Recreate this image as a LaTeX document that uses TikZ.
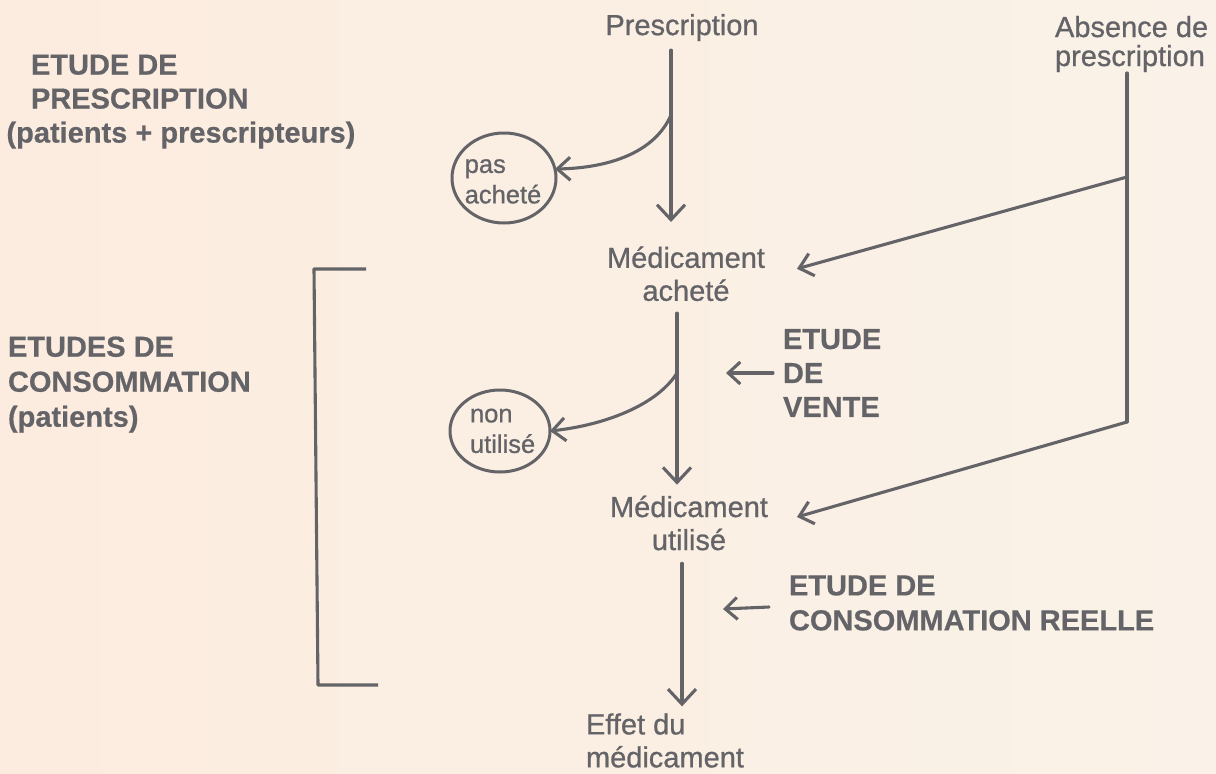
\documentclass[tikz,border=0pt]{standalone}
\usepackage{fontspec}
\setmainfont{Liberation Sans}
\newfontfamily\plainface{Liberation Sans}[FakeBold=0.8]
\newfontfamily\heavyface{Liberation Sans Bold}[FakeBold=0.5]
\usetikzlibrary{arrows.meta,shapes.geometric,calc}
\definecolor{ink}{HTML}{646468}
\definecolor{paperL}{HTML}{FCECDF}
\definecolor{paperR}{HTML}{FAF2E8}

\begin{document}
\begin{tikzpicture}[x=1pt,y=-1pt,
  every node/.style={text=ink, inner sep=0pt, outer sep=0pt},
  lbl/.style={font=\plainface\fontsize{29}{33}\selectfont, align=center},
  lbll/.style={font=\plainface\fontsize{29}{33}\selectfont, align=left},
  study/.style={font=\heavyface\fontsize{29}{34}\selectfont, align=left},
  studywide/.style={font=\heavyface\fontsize{29}{35}\selectfont, align=left},
  small/.style={font=\plainface\fontsize{25.5}{30.5}\selectfont, align=left},
  ring/.style={draw=ink, line width=3pt, ellipse},
  ln/.style={draw=ink, line width=3.1pt, line cap=round, line join=round},
  vtip/.style={-{Straight Barb[length=15pt,width=28pt]}},
  dtip/.style={-{Straight Barb[length=13pt,width=23pt]}},
  ctip/.style={-{Straight Barb[length=13pt,width=23pt]}},
  stip/.style={-{Straight Barb[length=12pt,width=22pt]}}
]
% paper
\shade[left color=paperL, right color=paperR] (0,0) rectangle (1216,774);
\useasboundingbox (0,0) rectangle (1216,774);

% main chain
\node[lbl] (presc) at (682,27.6) {Prescription};
\node[lbl] (med1) at (686,273.8) {Médicament\\acheté};
\node[lbl] (med2) at (689,523) {Médicament\\utilisé};
\node[lbll, anchor=west] (effet) at (586,740.5) {Effet du\\médicament};

% no prescription branch
\node[font=\plainface\fontsize{29}{29}\selectfont, align=left, anchor=west] (absence) at (1055,44) {Absence de\\prescription};

% study labels
\node[study, anchor=west] (vente) at (783,373) {ETUDE\\DE\\VENTE};
\node[studywide, anchor=west] (reelle) at (789,603) {ETUDE DE\\CONSOMMATION REELLE};
\node[study, anchor=west] (etpres) at (6.5,101.6) {\hspace*{24.5pt}ETUDE DE\\\hspace*{24.5pt}PRESCRIPTION\\(patients + prescripteurs)};
\node[studywide, anchor=west] (etcons) at (8,384.6) {ETUDES DE\\CONSOMMATION\\(patients)};

% losses
\node[ring, minimum width=104pt, minimum height=90pt] (lost1) at (504,178) {};
\node[small] (lost1txt) at (503,181.4) {pas\\acheté};
\node[ring, minimum width=100pt, minimum height=82pt] (lost2) at (500,431) {};
\node[small] (lost2txt) at (502.6,430.9) {non\\utilisé};

% branching points
\coordinate (j1) at (671,115);
\coordinate (j2) at (677,373);
\coordinate (a1) at (1127,177);
\coordinate (a2) at (1127,422);

% vertical flow
\draw[ln, shorten <=9pt] (presc.south -| j1) -- (j1);
\draw[ln, vtip, shorten >=24.5pt] (j1) -- (j1 |- med1.north);
\draw[ln, shorten <=12pt] (med1.south -| j2) -- (j2);
\draw[ln, vtip, shorten >=11pt] (j2) -- (j2 |- med2.north);
\draw[ln, vtip, shorten <=13pt, shorten >=7pt] ([xshift=-7pt]med2.south) -- ([xshift=-7pt]med2.south |- effet.north);

% losses along the way
\draw[ln, ctip] (j1) .. controls (655,152) and (610,168) .. (lost1.10);
\draw[ln, ctip] (j2) .. controls (657,405) and (605,425) .. (lost2.east);

% purchase without prescription
\draw[ln, shorten <=1pt] (absence.south -| a1) -- (a2);
\draw[ln, dtip] (a1) -- ($(med1.east)+(32,-5)$);
\draw[ln, dtip] (a2) -- ($(med2.east)+(29,-6)$);

% what each study measures
\draw[ln, stip] ($(vente.west)+(-10,0)$) -- ($(vente.west)+(-57,0)$);
\draw[ln, stip] ($(reelle.west)+(-20,4)$) -- ($(reelle.west)+(-66,6)$);

% bracket of consumption studies
\draw[ln, line cap=butt] (366,269) -- (314,269) -- (318,685) -- (378,685);
\end{tikzpicture}
\end{document}
